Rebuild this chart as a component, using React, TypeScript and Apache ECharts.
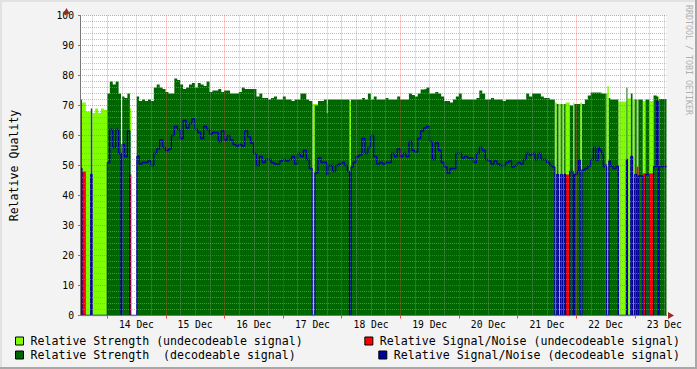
import React, { useEffect, useRef } from 'react';
import * as echarts from 'echarts';

// Time of each sample, in hours since 13 Dec 00:00 (each value holds until the next sample)
const hours = [
  0.9, 1.7, 3.3, 5.3, 5.9, 7.1, 8.3, 9.5, 10.7, 12.1,
  13.1, 14.3, 15.5, 16.7, 17.7, 18.1, 19.1, 20.3, 21.3, 21.9,
  24.1, 25.1, 26.3, 27.5, 28.7, 29.9, 31.1, 32.3, 33.5, 34.7,
  35.9, 37.1, 38.3, 39.5, 40.7, 41.9, 43.1, 44.3, 45.5, 46.7,
  47.9, 49.1, 50.3, 51.5, 52.7, 53.9, 55.1, 56.3, 57.5, 58.7,
  59.9, 61.1, 62.3, 63.5, 64.7, 65.9, 67.1, 68.3, 69.5, 70.7,
  71.9, 73.1, 74.3, 75.5, 76.7, 77.9, 79.1, 80.3, 81.5, 82.7,
  83.9, 85.1, 86.3, 87.5, 88.7, 89.9, 91.1, 92.3, 93.5, 94.7,
  96.0, 97.0, 98.3, 99.5, 100.7, 101.9, 102.3, 104.3, 105.5, 106.7,
  107.9, 109.1, 110.3, 111.2, 111.8, 112.7, 113.9, 115.1, 116.3, 117.5,
  118.7, 119.9, 121.1, 122.3, 123.5, 124.7, 125.9, 127.1, 128.3, 129.5,
  130.7, 131.9, 133.1, 134.3, 135.5, 136.7, 137.9, 139.1, 140.3, 141.5,
  142.7, 143.9, 145.1, 146.3, 147.5, 148.7, 149.9, 151.1, 152.3, 153.5,
  154.7, 155.9, 157.1, 158.3, 159.5, 160.7, 161.9, 163.1, 164.3, 165.5,
  166.7, 167.9, 169.1, 170.3, 171.5, 172.7, 173.9, 175.1, 176.3, 177.5,
  178.7, 179.9, 181.1, 182.3, 183.5, 184.7, 185.9, 187.1, 188.3, 189.5,
  190.7, 191.9, 193.1, 194.3, 195.2, 196.0, 196.7, 197.6, 198.3, 199.0,
  199.6, 201.3, 202.7, 203.2, 204.3, 204.9, 205.6, 206.3, 207.5, 208.7,
  209.9, 211.0, 212.0, 213.0, 213.6, 214.3, 215.0, 215.6, 216.3, 216.7,
  217.3, 217.9, 219.0, 220.3, 221.2, 224.5, 224.9, 226.3, 227.0, 227.5,
  227.9, 228.7, 229.4, 231.2, 232.3, 233.9, 235.6, 236.9, 237.5, 237.9,
  240.9,
];

const strengthUndecodeable = [
  0, 71, 68, 0, 67.5, 69, 67.5, 69, 68.5, 0,
  0, 0, 0, 0, 0, 0, 0, 0, 69, 0,
  0, 0, 0, 0, 0, 0, 0, 0, 0, 0,
  0, 0, 0, 0, 0, 0, 0, 0, 0, 0,
  0, 0, 0, 0, 0, 0, 0, 0, 0, 0,
  0, 0, 0, 0, 0, 0, 0, 0, 0, 0,
  0, 0, 0, 0, 0, 0, 0, 0, 0, 0,
  0, 0, 0, 0, 0, 0, 0, 0, 0, 0,
  70.5, 70.5, 0, 0, 0, 70.5, 0, 0, 0, 0,
  0, 0, 0, 71.5, 0, 0, 0, 0, 0, 0,
  0, 0, 0, 0, 0, 0, 0, 0, 0, 0,
  0, 0, 0, 0, 0, 0, 0, 0, 0, 0,
  0, 0, 0, 0, 0, 0, 0, 0, 0, 0,
  0, 0, 0, 0, 0, 0, 0, 0, 0, 0,
  0, 0, 0, 0, 0, 0, 0, 0, 0, 0,
  0, 0, 0, 0, 0, 0, 0, 0, 0, 0,
  0, 0, 0, 0, 71, 0, 70.5, 0, 70.5, 0,
  71, 0, 71, 0, 0, 0, 71, 0, 0, 0,
  0, 0, 0, 0, 0, 0, 0, 0, 74, 76.4,
  0, 0, 0, 0, 71.3, 0, 72.3, 0, 72, 72,
  0, 72, 0, 71.5, 0, 71.5, 0, 0, 73, 0,
  0,
];

const strengthDecodeable = [
  72, 0, 0, 69, 0, 0, 0, 0, 0, 74,
  78, 77, 78, 74, 0, 73, 72.5, 74, 0, 0,
  73, 71.5, 72, 71.5, 72, 71.5, 76, 77, 76, 75.5,
  74.5, 74, 74, 79, 78.5, 77, 75.5, 76, 77, 77.5,
  76, 77.5, 77, 76.5, 78, 74.5, 75, 75, 75.5, 74.5,
  75, 75, 74, 74, 74, 74.5, 76, 75.5, 75.5, 75.5,
  75.5, 73, 74, 72.5, 72.5, 72, 72.5, 73, 72, 72,
  73, 72, 72, 71.5, 72, 72, 74, 74, 72, 71.5,
  0, 70, 71.5, 71.5, 72, 67.4, 72, 72, 72, 72,
  72, 72, 72, 0, 72, 72, 72, 72, 72.5, 72,
  74, 72, 73, 72, 72, 72, 72.5, 72, 72, 72,
  73, 72, 72, 72, 74, 73.5, 73, 74, 75.3, 75.5,
  76, 74, 74, 74.5, 74, 73, 71.5, 71.5, 71, 72,
  73, 74, 72, 72, 72, 72, 72, 72.5, 75, 74,
  72, 72, 72.5, 72, 72, 72, 71.5, 72, 72, 72,
  72, 72, 72, 72, 74, 73, 74, 74, 74, 73,
  72.5, 72.5, 72, 72, 0, 70.5, 0, 70.5, 0, 70.5,
  0, 70, 0, 70.5, 70.5, 70.5, 0, 70.5, 72, 73.3,
  74.3, 74.3, 74.3, 74.3, 74.3, 74, 74, 74, 0, 0,
  72.5, 72, 72, 72, 0, 76, 0, 74, 0, 0,
  72, 0, 72, 0, 72, 0, 73.3, 73, 0, 72.2,
  72.2,
];

const snUndecodeable = [
  0, 48, 0, 0, 0, 0, 0, 0, 0, 0,
  0, 0, 0, 0, 0, 0, 0, 0, 47, 0,
  0, 0, 0, 0, 0, 0, 0, 0, 0, 0,
  0, 0, 0, 0, 0, 0, 0, 0, 0, 0,
  0, 0, 0, 0, 0, 0, 0, 0, 0, 0,
  0, 0, 0, 0, 0, 0, 0, 0, 0, 0,
  0, 0, 0, 0, 0, 0, 0, 0, 0, 0,
  0, 0, 0, 0, 0, 0, 0, 0, 0, 0,
  0, 0, 0, 0, 0, 0, 0, 0, 0, 0,
  0, 0, 0, 0, 0, 0, 0, 0, 0, 0,
  0, 0, 0, 0, 0, 0, 0, 0, 0, 0,
  0, 0, 0, 0, 0, 0, 0, 0, 0, 0,
  0, 0, 0, 0, 0, 0, 0, 0, 0, 0,
  0, 0, 0, 0, 0, 0, 0, 0, 0, 0,
  0, 0, 0, 0, 0, 0, 0, 0, 0, 0,
  0, 0, 0, 0, 0, 0, 0, 0, 0, 0,
  0, 0, 0, 0, 0, 0, 0, 0, 0, 0,
  47, 0, 0, 0, 0, 0, 0, 0, 0, 0,
  0, 0, 0, 0, 0, 0, 0, 0, 49.5, 0,
  0, 0, 0, 0, 0, 0, 0, 0, 0, 46,
  0, 49.6, 0, 47.4, 0, 47.4, 0, 0, 0, 0,
  0,
];

const snDecodeable = [
  49, 0, 0, 47, 0, 0, 0, 0, 0, 51,
  62, 56, 62, 54, 0, 57, 53, 61.5, 0, 0,
  53, 50.5, 51, 51, 51.5, 50, 54, 55.5, 58.5, 56,
  55, 55.5, 60, 63, 62, 59, 65, 62.5, 64, 65.5,
  62, 61, 59, 63, 62, 60.5, 61, 61, 58, 61.5,
  58.5, 60, 58.5, 57, 56.5, 57, 56.5, 61.5, 59.5, 57.5,
  54, 50, 53, 51, 52, 52, 51, 50.5, 50.5, 51.5,
  52, 51.5, 52, 53, 50.5, 54, 53, 55, 52, 49,
  0, 47.5, 52.5, 51, 51, 47, 50, 48, 50, 50.5,
  51, 50, 48, 0, 49.5, 51, 53, 53.5, 59, 54,
  56, 60, 53, 50.5, 51, 50.5, 51, 51, 54, 53,
  55.5, 53, 54, 53, 58, 55, 54.5, 59, 61.5, 62.5,
  63, 58, 52, 57.5, 55, 51, 49.5, 47.5, 49, 49,
  54, 54, 52.5, 53, 52.5, 52.5, 51, 54, 56, 55,
  52, 51.5, 50.5, 51.5, 50.5, 50, 50, 51, 51.5, 49.5,
  50, 51, 50.5, 52, 54, 53.5, 54, 52, 54, 52,
  52, 51, 50, 49.5, 0, 47, 0, 47, 0, 47,
  0, 48, 0, 47, 48, 51.8, 0, 48.5, 49, 49.8,
  52, 56, 51.8, 56, 55, 54, 49.6, 50.2, 0, 0,
  51.5, 49.8, 49, 49.8, 0, 52, 0, 53, 0, 0,
  47, 0, 46.5, 0, 47, 0, 49.6, 71.5, 0, 49.6,
  49.6,
];

const dayLabelHours = [24, 48, 72, 96, 120, 144, 168, 192, 216, 240];
const dayLabels = ['14 Dec', '15 Dec', '16 Dec', '17 Dec', '18 Dec', '19 Dec', '20 Dec', '21 Dec', '22 Dec', '23 Dec'];
const majorGridHours = [12, 36, 60, 84, 108, 132, 156, 180, 204, 228];
const minorGridHours = [
  6, 18, 24, 30, 42, 48, 54, 66, 72, 78, 90, 96, 102, 114, 120, 126, 138, 144, 150,
  162, 168, 174, 186, 192, 198, 210, 216, 222, 234, 240,
];

const seriesNames = [
  'Relative Strength (undecodeable signal)',
  'Relative Strength\u00a0 (decodeable signal)',
  'Relative Signal/Noise (undecodeable signal)',
  'Relative Signal/Noise (decodeable signal)',
];
const seriesColors = ['#80ff00', '#006600', '#ff0000', '#000099'];

const W = 697;
const H = 369;
const GRID_LEFT = 66.5;
const GRID_TOP = 15.5;
const GRID_W = 600;
const GRID_H = 300;
const MONO = '"DejaVu Sans Mono", monospace';

const MAJOR_GRID = 'rgba(255, 64, 64, 0.55)';
const MINOR_GRID = 'rgba(150, 150, 150, 0.6)';
const ARROW = '#a0282a';

function pairs(values: number[]) {
  return hours.map((h, i) => [h, values[i]]);
}

export default function App() {
  const ref = useRef<HTMLDivElement>(null);

  useEffect(() => {
    document.body.style.margin = '0';
    const chart = echarts.init(ref.current!, null, { renderer: 'svg', width: W, height: H });

    const areaSeries = (idx: number, values: number[]) => ({
      name: seriesNames[idx],
      type: 'line',
      step: 'end',
      data: pairs(values),
      symbol: 'none',
      color: seriesColors[idx],
      lineStyle: { width: 0, color: seriesColors[idx] },
      areaStyle: { color: seriesColors[idx], opacity: 1 },
      itemStyle: { color: seriesColors[idx] },
      z: 2,
      silent: true,
    });

    const xMin = hours[0];
    const xMax = hours[hours.length - 1];

    const legendCommon = {
      orient: 'vertical',
      padding: 0,
      itemGap: 0,
      itemWidth: 8,
      itemHeight: 8,
      icon: 'rect',
      selectedMode: false,
      itemStyle: { borderColor: '#000000', borderWidth: 1 },
      textStyle: { fontFamily: MONO, fontSize: 11.6, color: '#000000', lineHeight: 14, padding: [0, 0, 0, 2] },
    };

    chart.setOption({
      animation: false,
      backgroundColor: '#f3f3f3',
      grid: {
        left: GRID_LEFT,
        top: GRID_TOP,
        width: GRID_W,
        height: GRID_H,
        show: true,
        backgroundColor: '#ffffff',
        borderWidth: 0,
      },
      xAxis: [
        {
          type: 'value',
          min: xMin,
          max: xMax,
          z: 5,
          axisLine: { show: true, onZero: false, lineStyle: { color: '#777777', width: 1 } },
          axisTick: {
            show: true,
            customValues: majorGridHours,
            length: 3,
            lineStyle: { color: '#ff4040', width: 1 },
          },
          axisLabel: {
            show: true,
            customValues: dayLabelHours,
            formatter: (v: number) => dayLabels[dayLabelHours.indexOf(Math.round(v))] ?? '',
            fontFamily: MONO,
            fontSize: 9.7,
            color: '#000000',
            margin: 4,
          },
          splitLine: { show: true, lineStyle: { color: MAJOR_GRID, type: [1, 1], width: 1 } },
        },
        {
          type: 'value',
          min: xMin,
          max: xMax,
          position: 'top',
          z: 4,
          axisLine: { show: false },
          axisTick: { show: true, customValues: minorGridHours, length: 0, lineStyle: { opacity: 0 } },
          axisLabel: { show: false },
          splitLine: { show: true, lineStyle: { color: MINOR_GRID, type: [1, 1], width: 1 } },
        },
      ],
      yAxis: {
        type: 'value',
        min: 0,
        max: 100,
        interval: 10,
        z: 5,
        name: 'Relative Quality',
        nameLocation: 'middle',
        nameRotate: 90,
        nameGap: 60,
        nameTextStyle: { fontFamily: MONO, fontSize: 11.6, color: '#000000' },
        axisLine: { show: true, lineStyle: { color: '#777777', width: 1 } },
        axisTick: { show: true, length: 2, lineStyle: { color: '#ff4040' } },
        axisLabel: { fontFamily: MONO, fontSize: 9.7, color: '#000000', margin: 6 },
        splitLine: { show: true, lineStyle: { color: MAJOR_GRID, type: [1, 1], width: 1 } },
        minorTick: { show: false, splitNumber: 5 },
        minorSplitLine: { show: true, lineStyle: { color: MINOR_GRID, type: [1, 1], width: 1 } },
      },
      legend: [
        { ...legendCommon, left: 15, top: 334, data: [seriesNames[0], seriesNames[1]] },
        { ...legendCommon, right: 17, top: 334, data: [seriesNames[2]] },
        { ...legendCommon, right: 17, top: 348, data: [seriesNames[3]] },
      ],
      series: [
        areaSeries(0, strengthUndecodeable),
        areaSeries(1, strengthDecodeable),
        areaSeries(2, snUndecodeable),
        {
          name: seriesNames[3],
          type: 'line',
          step: 'end',
          data: pairs(snDecodeable),
          symbol: 'none',
          color: seriesColors[3],
          lineStyle: { width: 1.3, color: seriesColors[3] },
          itemStyle: { color: seriesColors[3] },
          z: 3,
          silent: true,
        },
      ],
      graphic: [
        { type: 'rect', shape: { x: 0, y: 0, width: W, height: 2 }, style: { fill: '#e2e2e2' }, silent: true },
        { type: 'rect', shape: { x: 0, y: 0, width: 2, height: H }, style: { fill: '#e2e2e2' }, silent: true },
        { type: 'rect', shape: { x: W - 2, y: 0, width: 2, height: H }, style: { fill: '#a8a8a8' }, silent: true },
        { type: 'rect', shape: { x: 0, y: H - 2, width: W, height: 2 }, style: { fill: '#a8a8a8' }, silent: true },
        {
          type: 'polygon',
          shape: {
            points: [
              [GRID_LEFT + GRID_W + 1.5, GRID_TOP + GRID_H - 3.5],
              [GRID_LEFT + GRID_W + 1.5, GRID_TOP + GRID_H + 3.5],
              [GRID_LEFT + GRID_W + 7.5, GRID_TOP + GRID_H],
            ],
          },
          style: { fill: ARROW },
          z: 10,
          silent: true,
        },
        {
          type: 'polygon',
          shape: {
            points: [
              [GRID_LEFT - 3.5, GRID_TOP - 1.5],
              [GRID_LEFT + 3.5, GRID_TOP - 1.5],
              [GRID_LEFT, GRID_TOP - 7.5],
            ],
          },
          style: { fill: ARROW },
          z: 10,
          silent: true,
        },
        {
          type: 'text',
          x: 689,
          y: 5,
          rotation: -Math.PI / 2,
          style: {
            text: 'RRDTOOL / TOBI OETIKER',
            fill: '#b0b0b0',
            font: '8.3px "DejaVu Sans Mono", monospace',
            align: 'left',
            verticalAlign: 'middle',
          },
          silent: true,
        },
      ],
    });

    return () => chart.dispose();
  }, []);

  return (
    <div
      ref={ref}
      style={{ position: 'absolute', left: 0, top: 0, width: W, height: H }}
    />
  );
}
